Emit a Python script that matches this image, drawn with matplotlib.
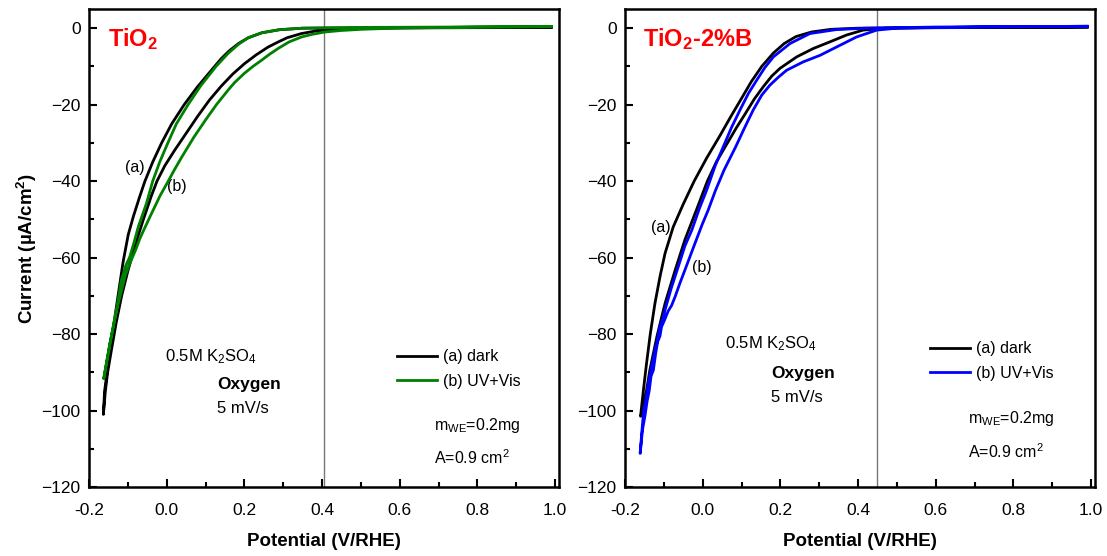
import matplotlib
matplotlib.use("Agg")
import matplotlib.pyplot as plt
from matplotlib.ticker import MultipleLocator, FormatStrFormatter

plt.rcParams['font.family'] = ['Liberation Sans', 'DejaVu Sans']
plt.rcParams['mathtext.fontset'] = 'custom'
plt.rcParams['mathtext.rm'] = 'Liberation Sans'
plt.rcParams['mathtext.it'] = 'Liberation Sans:italic'
plt.rcParams['mathtext.bf'] = 'Liberation Sans:bold'

# ---- TiO2: dark scan (cathodic sweep, then return sweep) ----
tio2_dark_v = [0.99, 0.70, 0.55, 0.47, 0.42, 0.38, 0.347, 0.31, 0.287, 0.26, 0.23, 0.20,
               0.17, 0.14, 0.11, 0.08, 0.05, 0.02, -0.005, -0.025, -0.04, -0.06, -0.077,
               -0.10, -0.116, -0.13, -0.142, -0.152, -0.158, -0.163,
               -0.160, -0.151, -0.140, -0.126, -0.112, -0.099, -0.086, -0.070, -0.056,
               -0.036, -0.013, 0.013, 0.045, 0.078, 0.115, 0.140, 0.160, 0.185, 0.21,
               0.245, 0.29, 0.35, 0.50, 0.99]
tio2_dark_j = [0.2, 0.1, 0.0, -0.15, -0.35, -0.8, -1.4, -2.5, -3.6, -5.0, -7.0, -9.3,
               -12.0, -15.2, -18.8, -23.0, -27.5, -32.0, -36.0, -40.0, -44.0, -50.0, -55.4,
               -63.5, -70.0, -77.0, -84.0, -90.0, -95.0, -101.0,
               -95.0, -88.0, -80.0, -70.5, -61.0, -54.0, -49.3, -44.2, -40.0,
               -35.0, -30.0, -25.0, -20.0, -15.5, -11.0, -8.0, -6.0, -4.0, -2.5,
               -1.2, -0.4, 0.0, 0.1, 0.3]

# ---- TiO2: UV+Vis illuminated scan ----
tio2_light_v = [0.99, 0.80, 0.60, 0.50, 0.45, 0.407, 0.375, 0.347, 0.315, 0.287, 0.265,
                0.244, 0.222, 0.20, 0.175, 0.158, 0.128, 0.10, 0.07, 0.04, 0.02, 0.004,
                -0.017, -0.043, -0.060, -0.069, -0.080, -0.095, -0.106, -0.116, -0.129,
                -0.146, -0.162,
                -0.146, -0.129, -0.117, -0.105, -0.095, -0.084, -0.073, -0.052, -0.036,
                -0.018, 0.003, 0.025, 0.055, 0.088, 0.127, 0.158, 0.185, 0.21, 0.245,
                0.29, 0.35, 0.50, 0.99]
tio2_light_j = [0.4, 0.3, 0.05, -0.3, -0.6, -1.0, -1.6, -2.3, -3.6, -5.3, -6.8,
                -8.4, -10.0, -11.8, -14.2, -16.2, -20.0, -24.0, -28.5, -33.5, -37.0, -40.0,
                -43.8, -49.3, -53.0, -55.0, -58.0, -61.5, -64.5, -68.5, -73.7,
                -82.4, -91.6,
                -82.4, -73.7, -66.0, -62.0, -59.8, -56.0, -51.9, -45.8, -40.0,
                -35.0, -30.0, -25.0, -20.0, -15.0, -10.0, -6.6, -4.2, -2.5, -1.2,
                -0.4, 0.0, 0.2, 0.4]

# ---- TiO2-2%B: dark scan ----
tiob_dark_v = [0.99, 0.60, 0.47, 0.413, 0.370, 0.327, 0.285, 0.242, 0.199, 0.178, 0.156,
               0.133, 0.110, 0.087, 0.058, 0.035, 0.012, -0.013, -0.046, -0.071, -0.097,
               -0.118, -0.136, -0.153, -0.160,
               -0.153, -0.145, -0.135, -0.123, -0.110, -0.097, -0.076, -0.050, -0.022,
               0.010, 0.045, 0.073, 0.102, 0.125, 0.152, 0.182, 0.210, 0.240, 0.280,
               0.330, 0.40, 0.55, 0.99]
tiob_dark_j = [0.3, 0.2, 0.0, -0.5, -1.8, -3.6, -5.3, -7.5, -10.5, -12.5, -15.3,
               -18.5, -22.3, -26.0, -31.0, -35.0, -40.0, -46.7, -55.4, -63.3, -72.0,
               -80.7, -89.4, -99.9, -101.5,
               -95.0, -88.0, -80.0, -72.0, -65.0, -58.9, -52.0, -46.0, -40.0,
               -34.0, -28.0, -23.0, -18.0, -14.0, -10.0, -6.5, -4.0, -2.2, -1.0,
               -0.3, 0.0, 0.1, 0.3]

# ---- TiO2-2%B: UV+Vis illuminated scan ----
tiob_light_v = [0.99, 0.70, 0.50, 0.448, 0.396, 0.345, 0.302, 0.259, 0.216, 0.195, 0.173,
                0.152, 0.130, 0.108, 0.085, 0.055, 0.033, 0.014, -0.002, -0.020, -0.046,
                -0.058, -0.071, -0.080, -0.089, -0.099, -0.106, -0.110, -0.116, -0.121,
                -0.127, -0.133, -0.138, -0.143, -0.149, -0.155, -0.161,
                -0.157, -0.152, -0.146, -0.140, -0.135, -0.123, -0.117, -0.110, -0.104,
                -0.097, -0.081, -0.063, -0.046, -0.028, -0.008, 0.010, 0.032, 0.053,
                0.074, 0.096, 0.118, 0.139, 0.160, 0.182, 0.225, 0.276, 0.345, 0.42,
                0.60, 0.99]
tiob_light_j = [0.5, 0.3, 0.0, -0.5, -2.3, -4.9, -7.1, -8.8, -11.0, -12.8, -14.9,
                -17.5, -21.4, -26.0, -31.0, -37.1, -42.4, -47.6, -51.5, -56.3, -63.3,
                -66.5, -70.2, -72.5, -74.0, -76.5, -78.1, -80.5, -82.0, -85.0,
                -89.4, -91.0, -95.0, -97.5, -101.6, -105.0, -111.2,
                -106.0, -100.0, -97.0, -92.9, -90.5, -84.2, -82.0, -78.0, -76.5,
                -73.7, -68.0, -62.4, -57.0, -52.8, -47.0, -42.4, -36.0, -31.0,
                -26.0, -21.4, -17.0, -13.6, -10.3, -7.5, -4.0, -1.4, -0.35, 0.0,
                0.3, 0.5]

x_ticks = [-0.2, 0.0, 0.2, 0.4, 0.6, 0.8, 1.0]
y_ticks = [0, -20, -40, -60, -80, -100, -120]

panels = [
    dict(title=r'TiO$_\mathbf{2}$', dark=(tio2_dark_v, tio2_dark_j),
         light=(tio2_light_v, tio2_light_j), color='#008000', vline=0.405,
         a_pos=(-0.082, -36.5), b_pos=(0.027, -41.5),
         cond_pos=(-0.005, -86.0), oxy_pos=(0.129, -93.2), rate_pos=(0.129, -99.5),
         leg_anchor=(0.655, 0.288), m_pos=(0.688, -103.8), a_area_pos=(0.688, -112.4),
         rect=[0.0804, 0.124, 0.4246, 0.8597]),
    dict(title=r'TiO$_\mathbf{2}$-2%B', dark=(tiob_dark_v, tiob_dark_j),
         light=(tiob_light_v, tiob_light_j), color='#0000ff', vline=0.448,
         a_pos=(-0.107, -52.0), b_pos=(-0.002, -62.5),
         cond_pos=(0.057, -82.4), oxy_pos=(0.176, -90.3), rate_pos=(0.176, -96.6),
         leg_anchor=(0.648, 0.305), m_pos=(0.683, -102.0), a_area_pos=(0.683, -110.8),
         rect=[0.5646, 0.124, 0.4246, 0.8597]),
]

fig = plt.figure(figsize=(11.07, 5.56), dpi=100)

for i, p in enumerate(panels):
    ax = fig.add_axes(p['rect'])
    ax.axvline(p['vline'], color='#777777', lw=1.0, zorder=1)
    ax.plot(*p['dark'], color='black', lw=2.0, label='(a) dark', zorder=3)
    ax.plot(*p['light'], color=p['color'], lw=2.0, label='(b) UV+Vis', zorder=4)

    ax.set_xlim(-0.2, 1.01)
    ax.set_ylim(-120, 5)
    ax.set_xticks(x_ticks)
    ax.set_yticks(y_ticks)
    ax.xaxis.set_major_formatter(FormatStrFormatter('%.1f'))
    ax.xaxis.set_minor_locator(MultipleLocator(0.1))
    ax.yaxis.set_minor_locator(MultipleLocator(10))
    ax.tick_params(which='both', direction='in', top=False, right=False,
                   width=1.5, labelsize=12.5)
    ax.tick_params(axis='y', which='major', pad=6)
    ax.tick_params(axis='x', which='major', pad=11.5)
    ax.tick_params(which='major', length=6)
    ax.tick_params(which='minor', length=3.5)
    for s in ax.spines.values():
        s.set_linewidth(1.8)

    ax.set_xlabel('Potential (V/RHE)', fontsize=13.5, fontweight='bold', labelpad=11)
    if i == 0:
        ax.set_ylabel(r'Current (µA/cm$^\mathbf{2}$)', fontsize=13.5,
                      fontweight='bold', labelpad=2)

    ax.text(-0.15 if i == 0 else -0.153, 0.5, p['title'], color='#ff0000',
            fontsize=17, fontweight='bold', va='top', ha='left')

    ax.text(*p['a_pos'], '(a)', fontsize=11.5, ha='center', va='center')
    ax.text(*p['b_pos'], '(b)', fontsize=11.5, ha='center', va='center')
    ax.text(*p['cond_pos'], r'0.5M K$_2$SO$_4$', fontsize=12, ha='left', va='center')
    ax.text(*p['oxy_pos'], 'Oxygen', fontsize=12.5, fontweight='bold',
            ha='left', va='center')
    ax.text(*p['rate_pos'], '5 mV/s', fontsize=12, ha='left', va='center')
    ax.text(*p['m_pos'], r'm$_{\rm WE}$=0.2mg', fontsize=11.5, ha='left', va='center')
    ax.text(*p['a_area_pos'], r'A=0.9 cm$^2$', fontsize=11.5, ha='left', va='center')

    ax.legend(loc='upper left', bbox_to_anchor=p['leg_anchor'], frameon=False,
              fontsize=11.5, handlelength=2.5, handletextpad=0.4,
              borderpad=0, borderaxespad=0, labelspacing=0.6)

fig.savefig('out.png', dpi=100)
